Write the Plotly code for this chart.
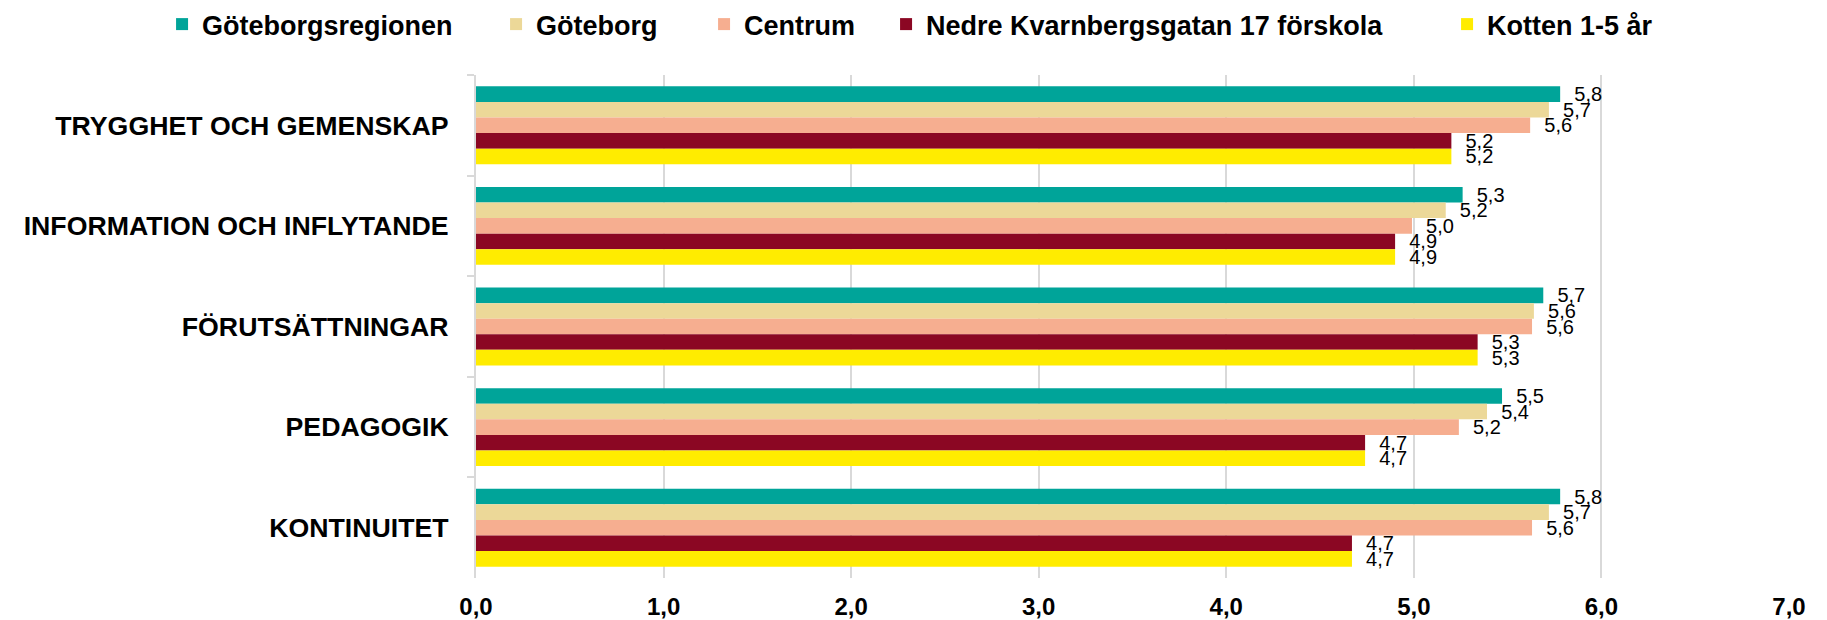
import plotly.graph_objects as go

categories = ["TRYGGHET OCH GEMENSKAP", "INFORMATION OCH INFLYTANDE",
              "FÖRUTSÄTTNINGAR", "PEDAGOGIK", "KONTINUITET"]

series_names = ["Göteborgsregionen", "Göteborg", "Centrum",
                "Nedre Kvarnbergsgatan 17 förskola", "Kotten 1-5 år"]

goteborgsregionen = [5.78, 5.26, 5.69, 5.47, 5.78]
goteborg = [5.72, 5.17, 5.64, 5.39, 5.72]
centrum = [5.62, 4.99, 5.63, 5.24, 5.63]
nedre_kvarnbergsgatan = [5.20, 4.90, 5.34, 4.74, 4.67]
kotten = [5.20, 4.90, 5.34, 4.74, 4.67]

series_values = [goteborgsregionen, goteborg, centrum, nedre_kvarnbergsgatan, kotten]
colors = ["#00A499", "#ECD898", "#F6AE90", "#8B0723", "#FFEC00"]
legend_widths = [289, 163, 137, 516, 205]

x_ticks = [0, 1, 2, 3, 4, 5, 6, 7]

FONT = "Liberation Sans, Arial, sans-serif"

fig = go.Figure()
for name, vals, col, lw in zip(series_names, series_values, colors, legend_widths):
    fig.add_trace(go.Bar(
        y=categories, x=vals, name=name, orientation="h",
        marker=dict(color=col, line=dict(width=0)),
        texttemplate="  %{x:.1f}", textposition="outside",
        textfont=dict(family=FONT, size=20, color="black"),
        constraintext="none", cliponaxis=False,
        legendwidth=lw,
    ))

fig.update_layout(
    width=1827, height=620,
    margin=dict(l=476, r=38, t=75, b=42, autoexpand=False),
    barmode="group", bargap=0.226, bargroupgap=0,
    separators=", ",
    plot_bgcolor="white", paper_bgcolor="white",
    font=dict(family=FONT, color="black"),
    legend=dict(
        orientation="h", xref="paper", yref="paper",
        x=-0.2391, xanchor="left", y=1.149, yanchor="top",
        font=dict(family=FONT, size=27, weight="bold", color="black"),
        traceorder="normal", itemwidth=30, tracegroupgap=0,
    ),
    xaxis=dict(
        range=[0, 7], tickvals=x_ticks, tickformat=".1f",
        showgrid=True, gridcolor="#D9D9D9", gridwidth=1.5,
        zeroline=False, showline=False, ticks="",
        ticklabelstandoff=12,
        tickfont=dict(family=FONT, size=24, weight="bold", color="black"),
    ),
    yaxis=dict(
        autorange="reversed", categoryorder="array", categoryarray=categories,
        showline=True, linecolor="#D9D9D9", linewidth=2,
        ticks="outside", tickson="boundaries", ticklen=7, tickcolor="#D9D9D9",
        tickwidth=1.5, showgrid=False, ticklabelstandoff=20,
        tickfont=dict(family=FONT, size=26.7, weight="bold", color="black"),
    ),
)

fig.write_html("out.html", config={"displayModeBar": False},
               post_script="document.body.style.margin='0';")
